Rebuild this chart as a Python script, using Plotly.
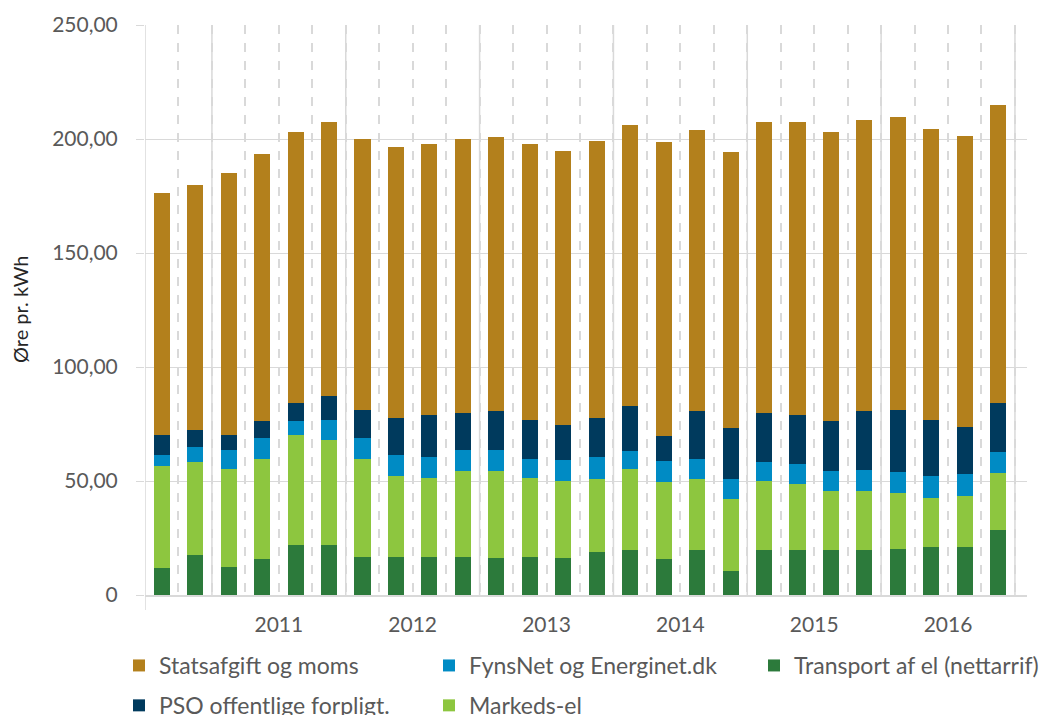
import plotly.graph_objects as go

# Quarterly periods (2010 Q3 .. 2016 Q4)
periods = ["2010 K3", "2010 K4",
           "2011 K1", "2011 K2", "2011 K3", "2011 K4",
           "2012 K1", "2012 K2", "2012 K3", "2012 K4",
           "2013 K1", "2013 K2", "2013 K3", "2013 K4",
           "2014 K1", "2014 K2", "2014 K3", "2014 K4",
           "2015 K1", "2015 K2", "2015 K3", "2015 K4",
           "2016 K1", "2016 K2", "2016 K3", "2016 K4"]

transport = [11.8, 17.5, 12.3, 15.8, 21.9, 21.9, 16.7, 16.7, 16.7, 16.7,
             16.2, 16.7, 16.2, 18.9, 19.7, 15.8, 19.7, 10.5, 19.7, 19.7,
             19.7, 19.7, 20.2, 21.1, 21.1, 28.5]
markeds = [44.8, 40.8, 43.0, 43.8, 48.3, 46.1, 42.9, 35.5, 34.6, 37.7,
           38.2, 34.6, 33.8, 32.0, 35.6, 33.8, 31.2, 31.6, 30.3, 29.0,
           25.9, 25.9, 24.5, 21.4, 22.3, 25.0]
fynsnet = [4.8, 6.6, 8.3, 9.3, 6.1, 8.8, 9.3, 9.2, 9.2, 9.2,
           9.2, 8.3, 9.2, 9.6, 7.9, 9.2, 8.7, 8.8, 8.3, 8.8,
           8.8, 9.2, 9.2, 9.7, 9.7, 9.2]
pso = [8.8, 7.5, 6.6, 7.4, 7.9, 10.5, 12.2, 16.2, 18.4, 16.2,
       17.1, 17.2, 15.4, 17.1, 19.7, 10.9, 21.1, 22.3, 21.5, 21.4,
       21.9, 25.9, 27.2, 24.6, 20.6, 21.5]
statsafgift = [106.1, 107.4, 114.9, 117.1, 118.9, 120.2, 118.9, 118.9, 118.9, 120.2,
               120.2, 121.0, 120.1, 121.5, 123.2, 129.0, 123.2, 121.1, 127.7, 128.6,
               126.8, 127.6, 128.5, 127.6, 127.4, 130.8]

year_labels = ["2011", "2012", "2013", "2014", "2015", "2016"]
year_centers = [3.5, 7.5, 11.5, 15.5, 19.5, 23.5]
year_bounds = [1.5, 5.5, 9.5, 13.5, 17.5, 21.5, 25.5]

y_ticks = [0, 50, 100, 150, 200, 250]
y_ticktext = ["0", "50,00", "100,00", "150,00", "200,00", "250,00"]

x = list(range(len(periods)))

FONT = "Lato"
GRID = "#d9d9d9"
TXT = "#595959"

series = [
    ("Transport af el (nettarrif)", transport, "#2c7a3b", "legend3", 1),
    ("Markeds-el", markeds, "#8dc63f", "legend2", 2),
    ("FynsNet og Energinet.dk", fynsnet, "#008bc4", "legend2", 1),
    ("PSO offentlige forpligt.", pso, "#003a5d", "legend", 2),
    ("Statsafgift og moms", statsafgift, "#b3801c", "legend", 1),
]

fig = go.Figure()
for name, vals, color, leg, rank in series:
    fig.add_trace(go.Bar(
        x=x, y=vals, name=name, marker=dict(color=color, line=dict(width=0)),
        customdata=periods, hovertemplate="%{customdata}<br>%{y:.1f}<extra>" + name + "</extra>",
        legend=leg, legendgroup=name, legendrank=rank,
    ))

# page body adds an 8px offset; layout positions below compensate for it
L, R, T, B = 137, 36, 17, 128
PW = 1055 - L - R
PH = 715 - T - B

shapes = []
for b in year_bounds:
    shapes.append(dict(type="line", xref="x", yref="y", x0=b, x1=b, y0=0, y1=250,
                       line=dict(color=GRID, width=1.5), layer="below"))
# left axis line extended below the baseline
shapes.append(dict(type="line", xref="x", yref="paper", x0=-0.5, x1=-0.5, y0=-15/PH, y1=1,
                   line=dict(color=GRID, width=1.5), layer="below"))

legend_common = dict(
    orientation="v", xref="container", yref="container", yanchor="top", xanchor="left",
    font=dict(family=FONT, size=23, color=TXT), tracegroupgap=7, traceorder="grouped",
    bgcolor="rgba(0,0,0,0)", itemclick=False, itemdoubleclick=False,
)
leg_top = 1 - 636/715

fig.update_layout(
    width=1055, height=715,
    margin=dict(l=L, r=R, t=T, b=B, autoexpand=False),
    paper_bgcolor="white", plot_bgcolor="white",
    barmode="stack", bargap=0.52,
    font=dict(family=FONT, color=TXT),
    showlegend=True,
    legend=dict(x=111/1055, y=leg_top, **legend_common),
    legend2=dict(x=421/1055, y=leg_top, **legend_common),
    legend3=dict(x=746/1055, y=leg_top, **legend_common),
    xaxis=dict(
        range=[-0.5, 25.86], tickvals=year_centers, ticktext=year_labels,
        showgrid=False, zeroline=False, ticks="", automargin=False,
        showline=True, linecolor=GRID, linewidth=2,
        tickfont=dict(family=FONT, size=21, color=TXT), ticklabelstandoff=10,
        minor=dict(tick0=0.5, dtick=1, showgrid=True, gridcolor=GRID,
                   gridwidth=1.5, griddash="9px,9px", ticks=""),
    ),
    yaxis=dict(
        range=[0, 250], tickvals=y_ticks, ticktext=y_ticktext,
        showgrid=True, gridcolor=GRID, gridwidth=1, zeroline=False,
        ticks="outside", ticklen=8, tickcolor=GRID, showline=False, automargin=False,
        tickfont=dict(family=FONT, size=21, color=TXT), ticklabelstandoff=14,
    ),
    annotations=[dict(
        text="Øre pr. kWh", textangle=-90, showarrow=False,
        xref="paper", yref="paper", x=(12 - L) / PW, y=0.5,
        xanchor="center", yanchor="middle",
        font=dict(family=FONT, size=20, color="#262626"),
    )],
    shapes=shapes,
)

fig.write_html("out.html")
